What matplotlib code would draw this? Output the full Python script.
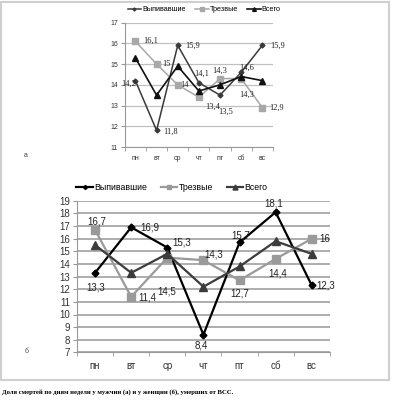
import matplotlib
matplotlib.use("Agg")
import matplotlib.pyplot as plt
from matplotlib.patches import Rectangle

days = ["пн", "вт", "ср", "чт", "пт", "сб", "вс"]

# (а) мужчины
men_drunk = [14.2, 11.8, 15.9, 14.1, 13.5, 14.6, 15.9]
men_sober = [16.1, 15.0, 14.0, 13.4, 14.3, 14.3, 12.9]
men_total = [15.3, 13.5, 14.9, 13.7, 14.0, 14.4, 14.2]

# (б) женщины
women_drunk = [13.3, 16.9, 15.3, 8.4, 15.7, 18.1, 12.3]
women_sober = [16.7, 11.4, 14.5, 14.3, 12.7, 14.4, 16.0]
women_total = [15.5, 13.3, 14.8, 12.2, 13.8, 15.8, 14.8]

series_names = ["Выпивавшие", "Трезвые", "Всего"]
caption = "Доля смертей по дням недели у мужчин (а) и у женщин (б), умерших от ВСС."

plt.rcParams['font.family'] = ['Liberation Sans', 'DejaVu Sans']

fig = plt.figure(figsize=(3.95, 4.0), dpi=100)
fig.patch.set_facecolor('white')

# outer frame
fig.add_artist(Rectangle((0.003, 0.05), 0.982, 0.946, transform=fig.transFigure,
                         fill=False, edgecolor='#cfcfcf', linewidth=1.5))

def fmt(v):
    s = ("%g" % v)
    return s.replace('.', ',')

def setup(ax, ymin, ymax, gridc, gridlw, fs):
    x = list(range(len(days)))
    ax.set_xlim(-0.5, len(days) - 0.5)
    ax.set_ylim(ymin, ymax)
    ax.set_yticks(range(ymin, ymax + 1))
    ax.set_xticks(x)
    ax.set_xticklabels(days)
    ax.set_xticks([i + 0.5 for i in range(-1, len(days))], minor=True)
    ax.yaxis.grid(True, color=gridc, linewidth=gridlw)
    ax.set_axisbelow(True)
    for s in ['top', 'right']:
        ax.spines[s].set_visible(False)
    ax.spines['left'].set_color('#999999')
    ax.spines['bottom'].set_color('#999999')
    ax.tick_params(axis='x', which='major', length=0, labelsize=fs, pad=6, colors='#333333')
    ax.tick_params(axis='x', which='minor', length=3, color='#999999')
    ax.tick_params(axis='y', length=3, color='#999999', labelsize=fs, colors='#333333', pad=2)

def label(ax, i, v, dx, dy, fs, family, ha='center'):
    ax.annotate(fmt(v), (i, v), xytext=(dx, -dy), textcoords='offset pixels',
                ha=ha, va='center', fontsize=fs, family=family, color='#222222')

# ---------- top (а) ----------
ax1 = fig.add_axes([0.316, 0.6325, 0.375, 0.311])
setup(ax1, 11, 17, '#c0c0c0', 0.9, 5)
x = list(range(len(days)))
l1, = ax1.plot(x, men_drunk, color='#3a3a3a', lw=1.1, marker='D', ms=2.5, label=series_names[0])
l2, = ax1.plot(x, men_sober, color='#a8a8a8', lw=1.1, marker='s', ms=4.5, label=series_names[1])
l3, = ax1.plot(x, men_total, color='#111111', lw=1.2, marker='^', ms=4.5, label=series_names[2])
ax1.legend(handles=[l1, l2, l3], loc='center', bbox_to_anchor=(0.535, 1.102), ncol=3,
           frameon=False, fontsize=5.2, handlelength=1.9, columnspacing=1.3,
           handletextpad=0.1, markerscale=0.6)

top_fam = ['Liberation Serif', 'DejaVu Serif']
fs1 = 6
drunk_off1 = [(1, 3, 'right'), (7, 1, 'left'), (8, 0, 'left'), (3, -9, 'center'),
              (6, 17, 'center'), (5, -5, 'center'), (8, 0, 'left')]
sober_off1 = [(8, 0, 'left'), (6, 0, 'left'), (3, 0, 'left'), (6, 10, 'left'),
              (0, -8, 'center'), (5, 16, 'center'), (7, 0, 'left')]
for i, v in enumerate(men_drunk):
    dx, dy, ha = drunk_off1[i]
    label(ax1, i, v, dx, dy, fs1, top_fam, ha)
for i, v in enumerate(men_sober):
    dx, dy, ha = sober_off1[i]
    label(ax1, i, v, dx, dy, fs1, top_fam, ha)

fig.text(0.065, 0.612, "а", fontsize=5, color='#444444', ha='center', va='center')

# ---------- bottom (б) ----------
ax2 = fig.add_axes([0.195, 0.119, 0.64, 0.379])
setup(ax2, 7, 19, '#a0a0a0', 1.2, 7)
m1, = ax2.plot(x, women_drunk, color='#000000', lw=1.6, marker='D', ms=3.5, label=series_names[0])
m2, = ax2.plot(x, women_sober, color='#9a9a9a', lw=1.6, marker='s', ms=5.5, label=series_names[1])
m3, = ax2.plot(x, women_total, color='#3c3c3c', lw=1.6, marker='^', ms=6, label=series_names[2])
ax2.legend(handles=[m1, m2, m3], loc='center', bbox_to_anchor=(0.375, 1.09), ncol=3,
           frameon=False, fontsize=6.3, handlelength=1.9, columnspacing=1.6,
           handletextpad=0.1, markerscale=0.6)

fs2 = 7
drunk_off2 = [(1, 15, 'center'), (9, 0, 'left'), (5, -5, 'left'), (-2, 11, 'center'),
              (1, -7, 'center'), (-2, -9, 'center'), (5, 0, 'left')]
sober_off2 = [(2, -8, 'center'), (7, 1, 'left'), (-1, 34, 'center'), (10, -6, 'center'),
              (0, 13, 'center'), (2, 15, 'center'), (8, 0, 'left')]
for i, v in enumerate(women_drunk):
    dx, dy, ha = drunk_off2[i]
    label(ax2, i, v, dx, dy, fs2, ['Liberation Sans', 'DejaVu Sans'], ha)
for i, v in enumerate(women_sober):
    dx, dy, ha = sober_off2[i]
    label(ax2, i, v, dx, dy, fs2, ['Liberation Sans', 'DejaVu Sans'], ha)

fig.text(0.068, 0.122, "б", fontsize=5, color='#444444', ha='center', va='center')

fig.text(0.005, 0.02, caption, fontsize=4.8, fontweight='bold',
         family=['Liberation Serif', 'DejaVu Serif'], ha='left', va='center')

fig.savefig("out.png", dpi=100, facecolor='white')
